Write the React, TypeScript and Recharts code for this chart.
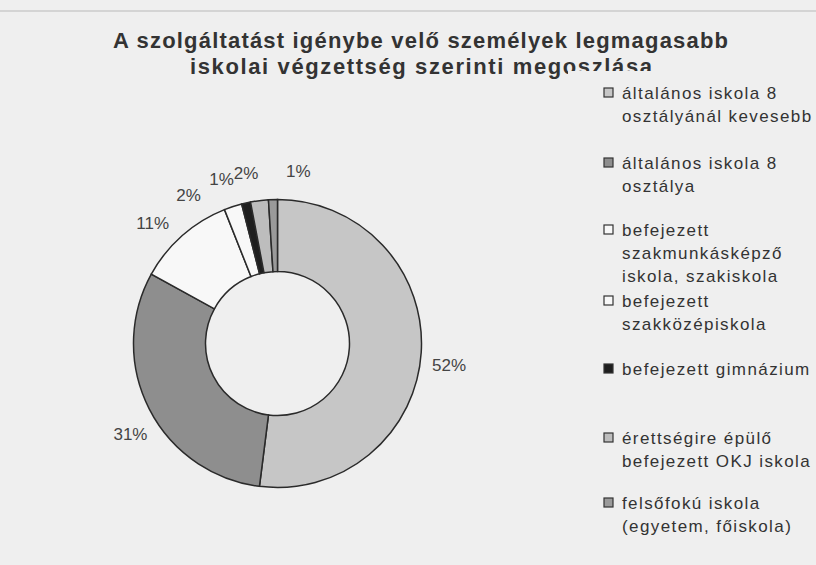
import React from "react";
import { PieChart, Pie, Cell } from "recharts";

const categories = [
  ["általános iskola 8", "osztályánál kevesebb"],
  ["általános iskola 8", "osztálya"],
  ["befejezett", "szakmunkásképző", "iskola, szakiskola"],
  ["befejezett", "szakközépiskola"],
  ["befejezett gimnázium"],
  ["érettségire épülő", "befejezett OKJ iskola"],
  ["felsőfokú iskola", "(egyetem, főiskola)"],
];
const values = [52, 31, 11, 2, 1, 2, 1];
const colors = ["#c6c6c6", "#8e8e8e", "#f8f8f8", "#f8f8f8", "#1e1e1e", "#bdbdbd", "#9a9a9a"];
const titleLines = [
  "A szolgáltatást igénybe velő személyek legmagasabb",
  "iskolai végzettség szerinti megoszlása",
];
// label placement tweaks (degrees, clockwise) to mimic the original's label layout
const labelNudge = [3.6, -4.8, -4.8, -12.9, -6.3, -3.3, 8.7];
const legendBaselines = [99, 169, 236, 307, 375, 444, 509];

const data = values.map((v, i) => ({ name: categories[i].join(" "), value: v }));

const BG = "#efefef";
const RAD = Math.PI / 180;

const renderLabel = (props: any) => {
  const { cx, cy, midAngle, outerRadius, index, value } = props;
  const ang = midAngle - labelNudge[index];
  const r = outerRadius + 29;
  const x = cx + r * Math.cos(-ang * RAD);
  const y = cy + r * Math.sin(-ang * RAD);
  return (
    <text
      x={x}
      y={y}
      textAnchor="middle"
      dominantBaseline="central"
      fill="#444"
      fontSize={17}
      fontFamily="'Liberation Sans', Arial, sans-serif"
    >
      {`${value}%`}
    </text>
  );
};

export default function App() {
  return (
    <div
      style={{
        position: "absolute",
        left: 0,
        top: 0,
        width: 816,
        height: 565,
        background: BG,
        overflow: "hidden",
        fontFamily: "'Liberation Sans', Arial, sans-serif",
      }}
    >
      <div style={{ position: "absolute", left: 0, top: 10, width: 816, height: 2, background: "#d4d4d4" }} />
      <div style={{ position: "absolute", left: 0, top: 0 }}>
        <PieChart width={816} height={565} margin={{ top: 0, right: 0, bottom: 0, left: 0 }}>
          <Pie
            data={data}
            dataKey="value"
            cx={277.5}
            cy={343.5}
            innerRadius={72}
            outerRadius={144}
            startAngle={90}
            endAngle={-270}
            stroke="#2a2a2a"
            strokeWidth={1.5}
            label={renderLabel}
            labelLine={false}
            isAnimationActive={false}
          >
            {data.map((d, i) => (
              <Cell key={i} fill={colors[i]} />
            ))}
          </Pie>
        </PieChart>
      </div>
      <svg width={816} height={565} style={{ position: "absolute", left: 0, top: 0, pointerEvents: "none" }}>
        <text x={113} y={48} fontSize={22} fontWeight="bold" fill="#333" textLength={615} lengthAdjust="spacing">
          {titleLines[0]}
        </text>
        <text x={190} y={74} fontSize={22} fontWeight="bold" fill="#333" textLength={462} lengthAdjust="spacing">
          {titleLines[1]}
        </text>
      </svg>
      <div style={{ position: "absolute", left: 568, top: 71, width: 248, height: 480, background: BG }}>
        <svg width={248} height={480}>
          {categories.map((lines, i) => {
            const b = legendBaselines[i] - 71;
            return (
              <g key={i}>
                <rect x={36} y={b - 11} width={9} height={9} fill={colors[i]} stroke="#333" strokeWidth={1.2} />
                {lines.map((ln, j) => (
                  <text key={j} x={54} y={b + j * 23} fontSize={17} fill="#333" letterSpacing={1.4}>
                    {ln}
                  </text>
                ))}
              </g>
            );
          })}
        </svg>
      </div>
    </div>
  );
}
